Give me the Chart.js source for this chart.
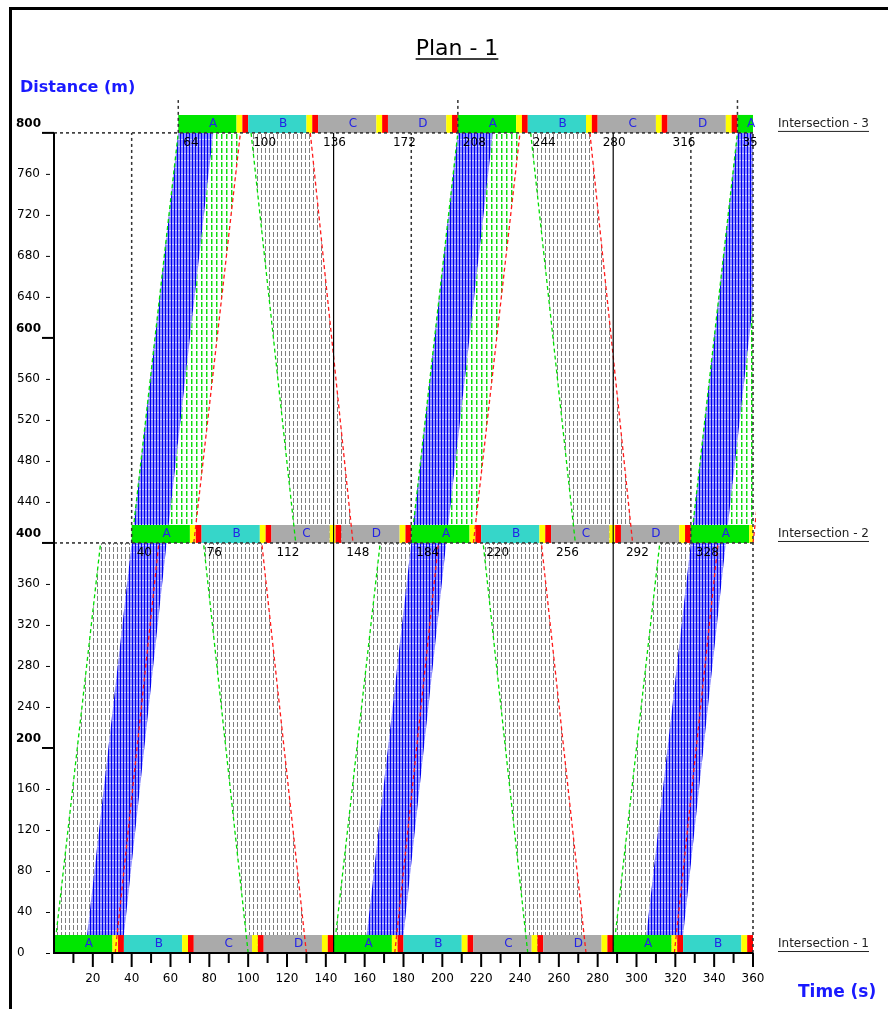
<!DOCTYPE html>
<html>
<head>
<meta charset="utf-8">
<script src="https://cdn.jsdelivr.net/npm/chart.js@4.4.1/dist/chart.umd.min.js"></script>
<style>
  html, body { margin: 0; padding: 0; background: #fff; overflow: hidden; }
  #wrap { position: relative; width: 888px; height: 1009px; }
</style>
</head>
<body>
<div id="wrap"><canvas id="plan"></canvas></div>
<script>
// ---- signal plan (times in s, distances in m) ----
const intersectionNames = ['Intersection - 1', 'Intersection - 2', 'Intersection - 3'];
const intersectionDist = [0, 400, 800];

const int1Starts = [0, 36, 72, 108, 144, 180, 216, 252, 288, 324];
const int1Phases = ['A', 'B', 'C', 'D', 'A', 'B', 'C', 'D', 'A', 'B'];
const int2Starts = [40, 76, 112, 148, 184, 220, 256, 292, 328];
const int2Phases = ['A', 'B', 'C', 'D', 'A', 'B', 'C', 'D', 'A'];
const int3Starts = [64, 100, 136, 172, 208, 244, 280, 316, 352];
const int3Phases = ['A', 'B', 'C', 'D', 'A', 'B', 'C', 'D', 'A'];

// green / yellow / all-red of every phase
const phaseTimes = [30, 3, 3];

// tick labels
const xTickLabels = [20, 40, 60, 80, 100, 120, 140, 160, 180, 200, 220, 240, 260, 280, 300, 320, 340, 360];
const xMinorTicks = [10, 30, 50, 70, 90, 110, 130, 150, 170, 190, 210, 230, 250, 270, 290, 310, 330, 350];
const yTickLabels = [0, 40, 80, 120, 160, 200, 240, 280, 320, 360, 400, 440, 480, 520, 560, 600, 640, 680, 720, 760, 800];
const yBoldTicks = [200, 400, 600, 800];

// bands between Int 1 (d=0) and Int 2 (d=400): [t0 left, t0 right, t400 right, t400 left]
const queueBandLow = [[0, 16, 40, 24], [144, 160, 184, 168], [288, 304, 328, 312]];
const throughBandLow = [[16, 35, 58, 40], [160, 179, 202, 184], [304, 323, 346, 328]];
const redLineLow = [[31.5, 54], [175.5, 198], [319.5, 342]];          // [t at 0, t at 400]
const downBandLow = [[100, 130, 107, 77], [244, 274, 251, 221]];       // [t0 left, t0 right, t400 right, t400 left]

// bands between Int 2 (d=400) and Int 3 (d=800): [t400 left, t400 right, t800 right, t800 left]
const throughBandUp = [[40, 58, 82, 64], [184, 202, 226, 208], [328, 346, 370, 352]];
const greenBandUp = [[58, 72, 96, 82], [202, 216, 240, 226], [346, 360, 384, 370]];
const downBandUp = [[124.5, 154, 132, 101.5], [268.5, 298, 276, 245.5]];

// reference verticals
const cycleLines = [144, 288];
const int2OffsetLines = [40, 184, 328];
const int3OffsetLines = [64, 208, 352];

const BAR_H = 17.5;

// ---- fill patterns ----
function makePattern(w, h, bg, paint) {
  const c = document.createElement('canvas');
  c.width = w; c.height = h;
  const g = c.getContext('2d');
  if (bg) { g.fillStyle = bg; g.fillRect(0, 0, w, h); }
  paint(g);
  return g.createPattern(c, 'repeat');
}
const grayHatch = makePattern(4, 7, null, g => { g.fillStyle = '#7f7f7f'; g.fillRect(1, 1, 1, 5); });
const greenHatch = makePattern(5, 7, null, g => { g.fillStyle = '#10dd10'; g.fillRect(1, 1, 1, 5); g.fillStyle = '#90f090'; g.fillRect(2, 1, 1, 5); });
const blueHatch = makePattern(3, 7, '#8c8cff', g => {
  g.fillStyle = '#0000f0'; g.fillRect(0, 0, 1, 7);
  g.fillStyle = '#c8c8ff'; g.fillRect(1, 6, 2, 1);
});

const pt = (x, y) => ({ x, y });
function poly(points, fill) {
  return { data: points, backgroundColor: fill, borderColor: 'transparent', borderWidth: 0,
           fill: 'shape', pointRadius: 0, pointHoverRadius: 0, tension: 0 };
}
function seg(points, color, width, dash) {
  return { data: points, borderColor: color, borderWidth: width, borderDash: dash || [],
           fill: false, pointRadius: 0, pointHoverRadius: 0, tension: 0, clip: 3 };
}

const datasets = [];   // pushed bottom -> top

// bands, lower section
queueBandLow.forEach(b => {
  datasets.push(poly([pt(b[0], 0), pt(b[1], 0), pt(b[2], 400), pt(b[3], 400)], grayHatch));
});
throughBandLow.forEach(b => {
  datasets.push(poly([pt(b[0], 0), pt(b[1], 0), pt(b[2], 400), pt(b[3], 400)], blueHatch));
});
downBandLow.forEach(b => {
  datasets.push(poly([pt(b[0], 0), pt(b[1], 0), pt(b[2], 400), pt(b[3], 400)], grayHatch));
});
// bands, upper section
throughBandUp.forEach(b => {
  datasets.push(poly([pt(b[0], 400), pt(b[1], 400), pt(b[2], 800), pt(b[3], 800)], blueHatch));
});
greenBandUp.forEach(b => {
  datasets.push(poly([pt(b[0], 400), pt(b[1], 400), pt(b[2], 800), pt(b[3], 800)], greenHatch));
});
downBandUp.forEach(b => {
  datasets.push(poly([pt(b[0], 400), pt(b[1], 400), pt(b[2], 800), pt(b[3], 800)], grayHatch));
});

// signal bars
function phaseGreenColor(p) {
  return { A: '#00e600', B: '#36d6c9', C: '#aaaaaa', D: '#aaaaaa' }[p];
}
function addBars(starts, phases, d) {
  starts.forEach((s, i) => {
    const cols = [phaseGreenColor(phases[i]), '#ffff00', '#ff0000'];
    let a = s;
    phaseTimes.forEach((dur, k) => {
      const b = Math.min(a + dur, 360);
      if (a < 360) datasets.push(poly([pt(a, d), pt(b, d), pt(b, d + BAR_H), pt(a, d + BAR_H)], cols[k]));
      a += dur;
    });
  });
}
addBars(int1Starts, int1Phases, intersectionDist[0]);
addBars(int2Starts, int2Phases, intersectionDist[1]);
addBars(int3Starts, int3Phases, intersectionDist[2]);

// band edges (drawn over the bars)
const GREEN_E = '#00dd00', RED_E = '#ff1a1a';
queueBandLow.forEach(b => datasets.push(seg([pt(b[0], 0), pt(b[3], 400)], GREEN_E, 1.3, [4, 3])));
redLineLow.forEach(r => datasets.push(seg([pt(r[0], 0), pt(r[1], 400)], RED_E, 1.3, [4, 3])));
downBandLow.forEach(b => {
  datasets.push(seg([pt(b[0], 0), pt(b[3], 400)], GREEN_E, 1.3, [4, 3]));
  datasets.push(seg([pt(b[1], 0), pt(b[2], 400)], RED_E, 1.3, [4, 3]));
});
throughBandUp.forEach(b => datasets.push(seg([pt(b[0], 400), pt(b[3], 800)], GREEN_E, 1.3, [4, 3])));
greenBandUp.forEach(b => datasets.push(seg([pt(b[1], 400), pt(b[2], 800)], RED_E, 1.3, [4, 3])));
downBandUp.forEach(b => {
  datasets.push(seg([pt(b[3], 800), pt(b[0], 400)], GREEN_E, 1.3, [4, 3]));
  datasets.push(seg([pt(b[2], 800), pt(b[1], 400)], RED_E, 1.3, [4, 3]));
});

// reference lines
const REF = '#333333';
datasets.push(seg([pt(0, 800), pt(360, 800)], REF, 1.6, [3, 3]));
datasets.push(seg([pt(0, 400), pt(360, 400)], REF, 1.6, [3, 3]));
datasets.push(seg([pt(360, 0), pt(360, 800)], REF, 1.6, [3, 3]));
cycleLines.forEach(t => datasets.push(seg([pt(t, 0), pt(t, 800)], '#000000', 1.2)));
int2OffsetLines.forEach(t => datasets.push(seg([pt(t, 400), pt(t, 800)], REF, 1.5, [3, 3])));
int3OffsetLines.forEach(t => datasets.push(seg([pt(t, 800), pt(t, 832)], REF, 1.5, [3, 3])));

// Chart.js draws the first dataset on top, so reverse
datasets.reverse();

const FONT = '"DejaVu Sans", Verdana, sans-serif';
const BLUE_TXT = '#1a1aff';

const decor = {
  id: 'decor',
  afterDatasetsDraw(chart) {
    const ctx = chart.ctx, x = chart.scales.x, y = chart.scales.y, area = chart.chartArea;
    ctx.save();
    ctx.beginPath();
    ctx.rect(area.left, area.top, area.right - area.left + 4, area.bottom - area.top);
    ctx.clip();
    ctx.textBaseline = 'middle';

    // phase letters
    ctx.font = '12px ' + FONT;
    ctx.fillStyle = '#2323e6';
    ctx.textAlign = 'center';
    [[int1Starts, int1Phases, 0], [int2Starts, int2Phases, 1], [int3Starts, int3Phases, 2]].forEach(([st, ph, k]) => {
      const d = intersectionDist[k];
      st.forEach((s, i) => {
        const c = Math.min(s + 18, 359);
        ctx.fillText(ph[i], x.getPixelForValue(c), y.getPixelForValue(d + BAR_H / 2));
      });
    });

    // phase start times at Int 2 and Int 3
    ctx.fillStyle = '#000';
    ctx.textAlign = 'left';
    [[int2Starts, 1], [int3Starts, 2]].forEach(([st, k]) => {
      const py = y.getPixelForValue(intersectionDist[k]) + 10;
      st.forEach(s => ctx.fillText(String(s), x.getPixelForValue(s) + 5, py));
    });
    ctx.restore();
  },
  afterDraw(chart) {
    const ctx = chart.ctx, x = chart.scales.x, y = chart.scales.y;
    const x0 = x.getPixelForValue(0), x1 = x.getPixelForValue(360);
    const y0 = y.getPixelForValue(0), y800 = y.getPixelForValue(800);
    ctx.save();

    // outer frame
    ctx.strokeStyle = '#000';
    ctx.lineWidth = 3;
    ctx.beginPath();
    ctx.moveTo(10.5, 1012); ctx.lineTo(10.5, 8.5); ctx.lineTo(892, 8.5);
    ctx.stroke();

    // axes
    ctx.lineWidth = 2;
    ctx.beginPath();
    ctx.moveTo(x0, y800); ctx.lineTo(x0, y0); ctx.lineTo(x1, y0);
    ctx.stroke();

    // x ticks
    ctx.beginPath();
    xTickLabels.forEach(t => { const px = x.getPixelForValue(t); ctx.moveTo(px, y0); ctx.lineTo(px, y0 + 14); });
    xMinorTicks.forEach(t => { const px = x.getPixelForValue(t); ctx.moveTo(px, y0); ctx.lineTo(px, y0 + 10); });
    ctx.stroke();
    ctx.fillStyle = '#000';
    ctx.font = '12px ' + FONT;
    ctx.textAlign = 'center';
    ctx.textBaseline = 'middle';
    xTickLabels.forEach(t => ctx.fillText(String(t), x.getPixelForValue(t), y0 + 26));

    // y ticks
    ctx.textAlign = 'left';
    yTickLabels.forEach(v => {
      const py = y.getPixelForValue(v);
      if (yBoldTicks.includes(v)) {
        ctx.lineWidth = 2;
        ctx.beginPath(); ctx.moveTo(42, py); ctx.lineTo(x0, py); ctx.stroke();
        ctx.font = 'bold 12px ' + FONT;
        ctx.fillText(String(v), 16, py - 9.5);
      } else {
        ctx.lineWidth = 1;
        ctx.beginPath(); ctx.moveTo(46, py + 0.5); ctx.lineTo(50, py + 0.5); ctx.stroke();
        ctx.font = '12px ' + FONT;
        ctx.fillText(String(v), 17, py);
      }
    });

    // intersection names
    ctx.font = '12px ' + FONT;
    ctx.fillStyle = '#222';
    ctx.strokeStyle = '#222';
    ctx.lineWidth = 1;
    intersectionNames.forEach((n, k) => {
      const py = y.getPixelForValue(intersectionDist[k] + BAR_H / 2);
      ctx.fillText(n, 778, py);
      const w = ctx.measureText(n).width;
      ctx.beginPath(); ctx.moveTo(778, py + 7.5); ctx.lineTo(778 + w, py + 7.5); ctx.stroke();
    });

    // title
    ctx.font = '22px ' + FONT;
    ctx.fillStyle = '#000';
    ctx.strokeStyle = '#000';
    ctx.textAlign = 'center';
    ctx.textBaseline = 'alphabetic';
    ctx.fillText('Plan - 1', 457, 55);
    const tw = ctx.measureText('Plan - 1').width;
    ctx.lineWidth = 1.5;
    ctx.beginPath(); ctx.moveTo(457 - tw / 2, 59); ctx.lineTo(457 + tw / 2, 59); ctx.stroke();

    // axis titles
    ctx.fillStyle = BLUE_TXT;
    ctx.textAlign = 'left';
    ctx.textBaseline = 'middle';
    ctx.font = 'bold 16px ' + FONT;
    ctx.fillText('Distance (m)', 20, 88);
    ctx.font = 'bold 17px ' + FONT;
    ctx.fillText('Time (s)', 798, 993);
    ctx.restore();
  }
};

new Chart(document.getElementById('plan'), {
  type: 'line',
  data: { datasets },
  options: {
    responsive: true,
    maintainAspectRatio: false,
    animation: false,
    events: [],
    layout: { padding: { left: 54, right: 135, top: 97, bottom: 56 } },
    scales: {
      x: { type: 'linear', min: 0, max: 360, display: false },
      y: { type: 'linear', min: 0, max: 835, display: false }
    },
    plugins: { legend: { display: false }, tooltip: { enabled: false } }
  },
  plugins: [decor]
});
</script>
</body>
</html>
